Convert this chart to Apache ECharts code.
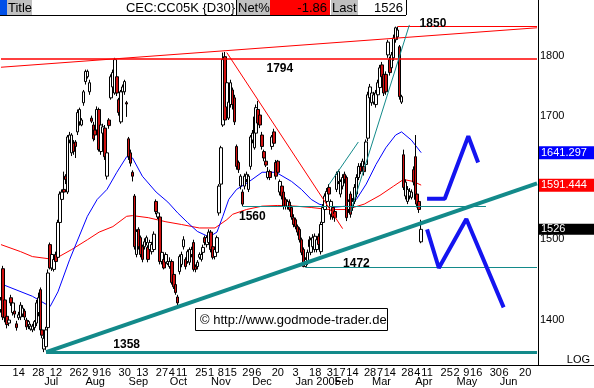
<!DOCTYPE html>
<html><head><meta charset="utf-8">
<script src="https://cdn.jsdelivr.net/npm/echarts@6/dist/echarts.min.js"></script>
<style>html,body{margin:0;padding:0;background:#fff}#c{width:594px;height:388px}</style>
</head><body><div id="c"></div>
<script>
// ---------- categories (trading days) ----------
const holidays = ['2004-07-05','2004-09-06','2004-11-25','2004-12-24','2005-01-17','2005-02-21','2005-03-25'];
const categoryCount = 274;
const dayLabels = ['2004-06-14','2004-06-28','2004-07-12','2004-07-26','2004-08-02','2004-08-09','2004-08-16','2004-08-30','2004-09-13','2004-09-27','2004-10-04','2004-10-11','2004-10-25','2004-11-01','2004-11-08','2004-11-15','2004-11-29','2004-12-06','2004-12-20','2005-01-03','2005-01-18','2005-01-31','2005-02-07','2005-02-14','2005-02-28','2005-03-07','2005-03-14','2005-03-28','2005-04-04','2005-04-11','2005-04-25','2005-05-02','2005-05-09','2005-05-16','2005-05-30','2005-06-06','2005-06-20'];
const monthLabelDates = ['2004-07-01','2004-08-02','2004-09-01','2004-10-01','2004-11-01','2004-12-01','2005-01-03','2005-02-01','2005-03-01','2005-04-01','2005-05-02','2005-06-01'];
const monthLabelTexts = ['Jul','Aug','Sep','Oct','Nov','Dec','Jan 2005','Feb','Mar','Apr','May','Jun'];

// ---------- daily candles [open, close, low, high] ----------
const ohlc = [
[1414,1427,1410,1431],[1470,1404,1400,1474],[1427,1403,1397,1430],[1405,1394,1389,1409],[1396,1400,1392,1403],
[1430,1423,1419,1434],[1410,1423,1406,1427],[1412,1408,1403,1416],[1395,1390,1386,1399],[1403,1407,1400,1411],
[1404,1420,1400,1424],[1408,1416,1404,1420],[1412,1404,1400,1415],[1400,1391,1387,1403],[1394,1398,1388,1400],
[1388,1392,1386,1395],[1387,1392,1384,1395],[1390,1398,1386,1400],[1396,1423,1392,1427],[1410,1430,1405,1437],
[1441,1387,1383,1444],[1387,1380,1376,1390],[1362,1376,1358,1380],[1365,1387,1361,1391],[1390,1464,1386,1469],
[1504,1471,1469,1507],[1471,1490,1467,1494],[1469,1483,1466,1486],[1490,1480,1476,1494],[1486,1536,1482,1540],
[1536,1578,1531,1582],[1570,1581,1566,1585],[1585,1581,1576,1612],[1605,1600,1593,1608],[1581,1666,1578,1669],
[1661,1669,1656,1674],[1641,1669,1636,1672],[1656,1643,1638,1661],[1658,1651,1633,1661],[1674,1705,1669,1710],
[1690,1710,1684,1713],[1685,1693,1683,1696],[1721,1739,1716,1742],[1756,1773,1751,1776],[1764,1773,1761,1776],
[1739,1754,1734,1759],[1696,1691,1688,1700],[1685,1663,1659,1690],[1677,1669,1661,1680],[1677,1710,1674,1715],
[1710,1646,1643,1713],[1643,1685,1638,1690],[1672,1682,1667,1687],[1680,1635,1630,1685],[1605,1641,1600,1646],
[1693,1684,1679,1696],[1729,1764,1726,1768],[1747,1771,1742,1776],[1737,1793,1734,1796],[1764,1737,1732,1768],
[1726,1705,1700,1729],[1690,1739,1687,1742],[1739,1747,1734,1751],[1739,1756,1734,1759],[1721,1719,1698,1724],
[1663,1635,1630,1666],[1641,1625,1620,1646],[1611,1605,1597,1614],[1575,1501,1497,1578],[1490,1523,1486,1526],
[1526,1501,1497,1529],[1514,1490,1486,1517],[1501,1483,1479,1504],[1501,1508,1497,1513],[1507,1514,1503,1517],
[1500,1483,1479,1503],[1497,1507,1493,1511],[1494,1504,1490,1508],[1497,1519,1494,1523],[1567,1552,1548,1570],
[1544,1550,1541,1553],[1544,1480,1476,1548],[1480,1493,1476,1497],[1483,1471,1469,1487],[1479,1490,1475,1493],
[1477,1480,1475,1483],[1473,1480,1470,1486],[1480,1451,1448,1483],[1462,1445,1442,1465],[1448,1437,1434,1451],
[1431,1423,1420,1434],[1466,1487,1462,1490],[1476,1490,1472,1494],[1501,1511,1497,1516],[1483,1473,1469,1486],
[1480,1494,1477,1497],[1479,1497,1475,1500],[1490,1497,1486,1501],[1507,1469,1466,1511],[1473,1469,1465,1476],
[1473,1479,1469,1482],[1486,1490,1483,1493],[1483,1490,1480,1493],[1493,1500,1489,1504],[1514,1507,1503,1517],
[1504,1514,1500,1517],[1507,1522,1504,1526],[1522,1497,1493,1525],[1501,1486,1483,1504],[1487,1497,1483,1500],
[1493,1514,1489,1517],[1550,1590,1546,1593],[1593,1649,1585,1652],[1685,1793,1682,1805],[1798,1693,1685,1806],
[1714,1754,1710,1759],[1696,1722,1693,1726],[1718,1754,1713,1759],[1742,1718,1710,1746],[1729,1690,1685,1734],
[1651,1620,1615,1654],[1626,1615,1610,1629],[1590,1605,1585,1608],[1581,1563,1560,1585],[1590,1605,1585,1609],
[1600,1608,1596,1612],[1585,1605,1581,1608],[1620,1666,1615,1669],[1661,1672,1656,1677],[1649,1698,1646,1701],
[1672,1713,1669,1718],[1710,1688,1684,1724],[1701,1685,1680,1706],[1669,1651,1646,1674],[1643,1633,1628,1646],
[1628,1622,1619,1638],[1603,1612,1600,1619],[1612,1603,1599,1615],[1651,1666,1646,1669],[1674,1656,1652,1679],
[1626,1605,1600,1630],[1628,1611,1606,1630],[1581,1597,1576,1600],[1590,1575,1570,1593],[1581,1560,1555,1585],
[1570,1560,1555,1573],[1560,1567,1555,1570],[1566,1555,1552,1570],[1558,1544,1540,1561],[1543,1533,1529,1548],
[1540,1530,1526,1543],[1530,1522,1517,1533],[1526,1511,1507,1529],[1511,1493,1489,1514],[1497,1473,1472,1500],
[1473,1483,1473,1486],[1479,1493,1475,1497],[1501,1511,1497,1516],[1493,1511,1489,1514],[1501,1514,1497,1519],
[1497,1516,1493,1520],[1497,1511,1493,1516],[1516,1504,1498,1520],[1494,1533,1490,1537],[1536,1558,1531,1563],
[1555,1575,1551,1579],[1567,1582,1563,1587],[1588,1578,1573,1593],[1548,1567,1540,1570],[1558,1544,1540,1563],
[1552,1543,1537,1555],[1585,1608,1581,1612],[1597,1612,1593,1615],[1578,1597,1573,1600],[1590,1603,1585,1608],
[1608,1600,1594,1612],[1603,1543,1538,1606],[1555,1567,1550,1570],[1578,1548,1543,1582],[1558,1567,1553,1572],
[1567,1588,1563,1593],[1578,1603,1573,1608],[1603,1620,1599,1625],[1620,1612,1608,1625],[1619,1628,1614,1632],
[1620,1612,1606,1623],[1623,1658,1619,1662],[1664,1734,1659,1739],[1729,1747,1724,1752],[1721,1737,1716,1742],
[1722,1734,1718,1739],[1718,1737,1713,1742],[1734,1754,1729,1759],[1746,1779,1741,1784],[1784,1764,1759,1789],
[1768,1737,1732,1773],[1768,1739,1734,1773],[1801,1823,1796,1827],[1793,1771,1766,1798],[1779,1801,1774,1806],
[1796,1830,1791,1836],[1827,1848,1822,1850],[1832,1844,1827,1850],[1815,1731,1726,1818],[1722,1731,1719,1734],
[1638,1588,1584,1646],[1575,1596,1570,1600],[1567,1585,1563,1590],[1575,1582,1570,1587],[1573,1581,1570,1585],
[1615,1596,1591,1620],[1635,1570,1566,1669],[1578,1563,1558,1582],[1567,1555,1550,1572],[1508,1526,1506,1540]
];

// ---------- moving averages [dayIndex, value] ----------
const maBlue = [[0,1449],[16,1432],[25,1418],[29,1438],[35,1483],[44,1545],[49,1570],[54,1585],[59,1611],[64,1635],[67,1633],[72,1605],[79,1581],[85,1566],[90,1550],[95,1536],[100,1523],[106,1515],[110,1522],[113,1545],[116,1570],[120,1585],[126,1596],[133,1611],[140,1611],[148,1597],[153,1585],[158,1570],[162,1563],[168,1558],[176,1560],[181,1570],[186,1593],[191,1623],[196,1649],[201,1669],[204,1674],[209,1661],[214,1641.297]];
const maRed = [[0,1504],[10,1494],[16,1487],[27,1483],[36,1497],[44,1511],[50,1522],[57,1530],[64,1545],[67,1546],[75,1543],[84,1537],[92,1533],[101,1528],[109,1528],[115,1540],[118,1548],[125,1555],[133,1560],[141,1561],[150,1560],[158,1558],[167,1555],[176,1555],[185,1563],[193,1576],[200,1590],[205,1600],[210,1597],[214,1591.444]];

// ---------- drawn annotations [dayIndex, price] ----------
const projUp = [[217,1571],[226,1571],[238,1667],[243,1626]];
const projDown = [[217,1526],[223,1471],[237,1541],[256,1417]];
const supportLine = [[23,1358],[273,1594]];
const line1358 = [[23,1358],[273,1358]];
const line1560 = [[123,1560],[247,1560]];
const line1472 = [[155,1472],[273,1472]];
const line1794 = [[0,1794],[273,1794]];
const line1850 = [[202,1850],[273,1850]];
const channelTop = [[0,1780],[273,1848]];
const downTrend = [[115,1805],[174,1527]];
const fanA = [[167,1592],[182,1658]];
const fanB = [[178,1551],[208,1853]];
const levelTexts = [['1358',64,1367],['1794',142,1777],['1560',128,1544],['1472',181,1477],['1850',220,1855]];

// ---------- axis labels ----------
const yTicks = [1400,1500,1700,1800];
const lastBlue = 1641.297, lastRed = 1591.444, lastPrice = 1526;
const headerTexts = {title:'Title', symbol:'CEC:CC05K {D30}', net:'Net%', netVal:'-1.86', last:'Last', lastVal:'1526'};

// build trading-day list
function buildDates(){
  const out=[]; const d=new Date(Date.UTC(2004,5,1));
  while(out.length<categoryCount){
    const wd=d.getUTCDay(); const s=d.toISOString().slice(0,10);
    if(wd!==0 && wd!==6 && holidays.indexOf(s)<0) out.push(s);
    d.setUTCDate(d.getUTCDate()+1);
  }
  return out;
}
const dates = buildDates();
const daySet = new Set(dayLabels);
const monthMap = {}; monthLabelDates.forEach((d,i)=>monthMap[d]=monthLabelTexts[i]);

const FONT = '"Liberation Sans", Arial, sans-serif';
const TEAL = '#138a8a';
const seg = (pts, style) => [{coord: pts[0], lineStyle: style}, {coord: pts[1]}];

const chart = echarts.init(document.getElementById('c'), null, {renderer:'canvas'});
const option = {
  animation:false,
  backgroundColor:'#ffffff',
  textStyle:{fontFamily:FONT},
  grid:{left:0, right:56, top:0, bottom:23, containLabel:false, outerBoundsMode:'none'},
  xAxis:[
    {type:'category', data:dates, position:'bottom', boundaryGap:true,
     axisLine:{show:true, lineStyle:{color:'#000', width:1}}, axisTick:{show:false}, splitLine:{show:false},
     axisLabel:{interval:(i,v)=>daySet.has(v), formatter:v=>String(+v.slice(8)), fontSize:11, color:'#000', margin:2, hideOverlap:false, fontFamily:FONT}},
    {type:'category', data:dates, position:'bottom', offset:9, boundaryGap:true,
     axisLine:{show:false}, axisTick:{show:false}, splitLine:{show:false},
     axisLabel:{interval:(i,v)=>monthMap[v]!==undefined, formatter:v=>monthMap[v]||'', align:'left', fontSize:11, color:'#000', margin:2, hideOverlap:false, fontFamily:FONT}}
  ],
  yAxis:{type:'log', logBase:10, position:'right', min:1341.5, max:1897.4, scale:true,
    axisLine:{show:true, lineStyle:{color:'#000', width:1}}, axisTick:{show:false}, splitLine:{show:false},
    axisLabel:{customValues:[...yTicks, lastPrice, lastRed, lastBlue], margin:1, fontSize:11, color:'#000', fontFamily:FONT,
      formatter:v=>{
        if (Math.abs(v-lastBlue)<0.01) return '{b|'+lastBlue.toFixed(3)+'}';
        if (Math.abs(v-lastRed)<0.01) return '{r|'+lastRed.toFixed(3)+'}';
        if (Math.abs(v-lastPrice)<0.01) return '{k|'+lastPrice+'}';
        if (Math.abs(v-1500)<0.01) return '{u|1500}';
        return '{n|'+Math.round(v)+'}';
      },
      rich:{
        n:{fontSize:11, color:'#000', padding:[0,0,0,1]},
        u:{fontSize:11, color:'#000', padding:[0,0,16,1]},
        b:{fontSize:11, color:'#fff', backgroundColor:'#0000ff', width:52, lineHeight:13, padding:[1,2,1,2]},
        r:{fontSize:11, color:'#fff', backgroundColor:'#ff0000', width:52, lineHeight:13, padding:[1,2,1,2]},
        k:{fontSize:11, color:'#fff', backgroundColor:'#000000', width:52, lineHeight:12, padding:[0,2,0,2]}
      }}
  },
  series:[
    {type:'line', name:'MA long', data:maRed, symbol:'none', showSymbol:false, lineStyle:{color:'#ff0000', width:1}, z:2, silent:true},
    {type:'line', name:'MA short', data:maBlue, symbol:'none', showSymbol:false, lineStyle:{color:'#0000ff', width:1}, z:2, silent:true},
    {type:'candlestick', name:'CC05K', data:ohlc, barWidth:3, z:3, silent:true,
     itemStyle:{color:'#ffffff', color0:'#d01010', borderColor:'#000', borderColor0:'#000', borderWidth:1}},
    {type:'line', name:'trendlines', data:[], z:4, silent:true,
     markLine:{silent:true, symbol:['none','none'], label:{show:false}, animation:false,
       data:[
         seg(supportLine,{color:TEAL, width:4, type:'solid'}),
         seg(line1358,{color:TEAL, width:3, type:'solid'}),
         seg(line1560,{color:TEAL, width:1, type:'solid'}),
         seg(line1472,{color:TEAL, width:1, type:'solid'}),
         seg(line1794,{color:'#ff0000', width:1.5, type:'solid'}),
         seg(line1850,{color:'#ff0000', width:1, type:'solid'}),
         seg(channelTop,{color:'#ff0000', width:1, type:'solid'}),
         seg(downTrend,{color:'#ff0000', width:1, type:'solid'}),
         seg(fanA,{color:TEAL, width:1, type:'solid'}),
         seg(fanB,{color:TEAL, width:1, type:'solid'})
       ]},
     markPoint:{silent:true, symbol:'circle', symbolSize:1, itemStyle:{color:'rgba(0,0,0,0)'},
       label:{show:true, position:'inside', color:'#000', fontWeight:'bold', fontSize:12, fontFamily:FONT},
       data: levelTexts.map(t=>({coord:[t[1],t[2]], value:t[0], label:{formatter:t[0]}}))}
    },
    {type:'line', name:'projection up', data:projUp, symbol:'none', lineStyle:{color:'#1414f0', width:4}, z:5, silent:true},
    {type:'line', name:'projection down', data:projDown, symbol:'none', lineStyle:{color:'#1414f0', width:4}, z:5, silent:true}
  ],
  graphic:[
    {type:'rect', z:100, shape:{x:0,y:0,width:406,height:15}, style:{fill:'#ffffff'}},
    {type:'rect', z:101, shape:{x:0,y:0,width:7,height:15}, style:{fill:'#0050e8'}},
    {type:'rect', z:101, shape:{x:7,y:0,width:25,height:15}, style:{fill:'#c0c0c0'}},
    {type:'text', z:102, x:8, y:8, style:{text:headerTexts.title, font:'13px '+FONT, fill:'#000', verticalAlign:'middle'}},
    {type:'text', z:102, x:235, y:8, style:{text:headerTexts.symbol, font:'13px '+FONT, fill:'#000', align:'right', verticalAlign:'middle'}},
    {type:'rect', z:101, shape:{x:237,y:0,width:33,height:15}, style:{fill:'#c0c0c0'}},
    {type:'text', z:102, x:238, y:8, style:{text:headerTexts.net, font:'13px '+FONT, fill:'#000', verticalAlign:'middle'}},
    {type:'rect', z:101, shape:{x:270,y:0,width:60,height:15}, style:{fill:'#ff0000'}},
    {type:'text', z:102, x:327, y:8, style:{text:headerTexts.netVal, font:'13px '+FONT, fill:'#000', align:'right', verticalAlign:'middle'}},
    {type:'rect', z:101, shape:{x:331,y:0,width:27,height:15}, style:{fill:'#c0c0c0'}},
    {type:'text', z:102, x:332, y:8, style:{text:headerTexts.last, font:'13px '+FONT, fill:'#000', verticalAlign:'middle'}},
    {type:'text', z:102, x:403, y:8, style:{text:headerTexts.lastVal, font:'13px '+FONT, fill:'#000', align:'right', verticalAlign:'middle'}},
    {type:'line', z:103, shape:{x1:236.5,y1:0,x2:236.5,y2:15}, style:{stroke:'#000', lineWidth:1}},
    {type:'line', z:103, shape:{x1:0,y1:15.5,x2:406,y2:15.5}, style:{stroke:'#000', lineWidth:1}},
    {type:'line', z:103, shape:{x1:406.5,y1:0,x2:406.5,y2:15}, style:{stroke:'#000', lineWidth:1}},
    {type:'rect', z:100, shape:{x:195.5,y:308.5,width:192,height:22}, style:{fill:'#ffffff', stroke:'#000', lineWidth:1}},
    {type:'text', z:101, x:200, y:320, style:{text:'\u00a9 http://www.godmode-trader.de', font:'13px '+FONT, fill:'#000', verticalAlign:'middle'}},
    {type:'line', z:100, shape:{x1:538,y1:365.5,x2:594,y2:365.5}, style:{stroke:'#000', lineWidth:1}},
    {type:'text', z:100, x:590, y:360, style:{text:'LOG', font:'11px '+FONT, fill:'#000', align:'right', verticalAlign:'middle'}}
  ]
};
chart.setOption(option);
</script>
</body></html>
